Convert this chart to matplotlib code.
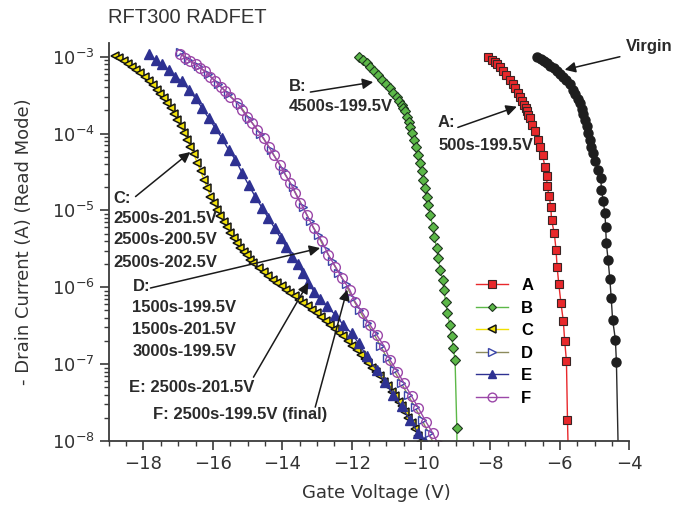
import numpy as np
import matplotlib
matplotlib.use("Agg")
import matplotlib.pyplot as plt
from matplotlib.ticker import MultipleLocator, LogLocator, NullFormatter

plt.rcParams['font.family'] = ['DejaVu Sans']

# Gate voltage (V) and log10 of drain current (A)
virgin_vg = [-6.67, -6.55, -6.45, -6.38, -6.28, -6.18, -6.09, -6.00, -5.90, -5.81,
             -5.72, -5.62, -5.55, -5.48, -5.42, -5.36, -5.32, -5.28, -5.23, -5.18,
             -5.14, -5.09, -5.04, -4.99, -4.90, -4.82, -4.80, -4.75, -4.70, -4.68,
             -4.66, -4.61, -4.56, -4.52, -4.48, -4.40, -4.37, -4.31]
virgin_log = [-3.00, -3.03, -3.06, -3.08, -3.12, -3.15, -3.19, -3.22, -3.26, -3.30,
              -3.36, -3.43, -3.49, -3.55, -3.60, -3.68, -3.75, -3.82, -3.90, -3.99,
              -4.08, -4.17, -4.25, -4.36, -4.47, -4.58, -4.73, -4.88, -5.04, -5.21,
              -5.43, -5.64, -5.89, -6.14, -6.42, -6.68, -6.97, -8.30]

a_vg = [-8.06, -7.96, -7.88, -7.82, -7.72, -7.63, -7.55, -7.44, -7.36, -7.29,
        -7.22, -7.15, -7.09, -7.04, -6.99, -6.96, -6.91, -6.86, -6.79, -6.72,
        -6.64, -6.58, -6.50, -6.43, -6.38, -6.37, -6.31, -6.26, -6.24, -6.16,
        -6.11, -6.08, -6.03, -5.97, -5.90, -5.86, -5.81, -5.78, -5.75]
a_log = [-3.00, -3.04, -3.07, -3.10, -3.14, -3.19, -3.24, -3.30, -3.36, -3.41,
         -3.47, -3.52, -3.58, -3.63, -3.67, -3.71, -3.76, -3.80, -3.89, -3.97,
         -4.08, -4.17, -4.28, -4.43, -4.55, -4.68, -4.81, -4.96, -5.12, -5.30,
         -5.51, -5.73, -5.96, -6.20, -6.44, -6.70, -6.96, -7.73, -8.30]

b_vg = [-11.78, -11.67, -11.56, -11.47, -11.37, -11.25, -11.13, -11.01, -10.89, -10.80,
        -10.70, -10.63, -10.56, -10.51, -10.46, -10.41, -10.36, -10.32, -10.27, -10.20,
        -10.14, -10.08, -10.03, -9.98, -9.93, -9.88, -9.84, -9.79, -9.74, -9.66,
        -9.62, -9.55, -9.50, -9.45, -9.38, -9.34, -9.29, -9.24, -9.17, -9.12,
        -9.07, -9.02, -8.97, -8.96]
b_log = [-3.00, -3.04, -3.08, -3.13, -3.19, -3.24, -3.30, -3.36, -3.41, -3.47,
         -3.52, -3.58, -3.63, -3.67, -3.71, -3.78, -3.85, -3.91, -3.99, -4.08,
         -4.17, -4.28, -4.38, -4.49, -4.60, -4.71, -4.82, -4.93, -5.06, -5.21,
         -5.34, -5.49, -5.62, -5.77, -5.90, -6.04, -6.19, -6.34, -6.49, -6.64,
         -6.79, -6.95, -7.83, -8.30]

c_vg = [-18.81, -18.70, -18.57, -18.45, -18.33, -18.21, -18.09, -17.97, -17.85, -17.73,
        -17.61, -17.51, -17.42, -17.32, -17.22, -17.12, -17.03, -16.93, -16.84, -16.74,
        -16.65, -16.55, -16.45, -16.35, -16.26, -16.16, -16.07, -15.97, -15.88, -15.79,
        -15.69, -15.59, -15.50, -15.40, -15.30, -15.21, -15.11, -15.02, -14.92, -14.83,
        -14.68, -14.54, -14.41, -14.28, -14.15, -14.02, -13.90, -13.77, -13.64, -13.52,
        -13.39, -13.26, -13.13, -13.00, -12.87, -12.75, -12.62, -12.49, -12.37, -12.24,
        -12.11, -11.98, -11.85, -11.74, -11.63, -11.52, -11.41, -11.29, -11.18, -11.07,
        -10.95, -10.84, -10.75, -10.65, -10.56, -10.46, -10.37, -10.27, -10.17, -10.08,
        -10.00]
c_log = [-2.99, -3.02, -3.06, -3.09, -3.13, -3.17, -3.21, -3.26, -3.32, -3.37,
         -3.43, -3.49, -3.54, -3.60, -3.67, -3.74, -3.82, -3.90, -3.99, -4.08,
         -4.17, -4.27, -4.38, -4.49, -4.60, -4.71, -4.82, -4.91, -4.99, -5.07,
         -5.15, -5.22, -5.29, -5.36, -5.43, -5.49, -5.54, -5.58, -5.64, -5.69,
         -5.75, -5.80, -5.85, -5.90, -5.95, -5.99, -6.04, -6.08, -6.12, -6.17,
         -6.21, -6.25, -6.30, -6.34, -6.39, -6.44, -6.49, -6.54, -6.59, -6.64,
         -6.70, -6.76, -6.82, -6.88, -6.93, -6.99, -7.05, -7.10, -7.16, -7.23,
         -7.29, -7.36, -7.42, -7.49, -7.55, -7.62, -7.70, -7.77, -7.85, -7.94,
         -8.02]

d_vg = [-16.95, -16.72, -16.43, -16.15, -15.86, -15.57, -15.23, -14.95, -14.64, -14.32,
        -13.99, -13.70, -13.40, -13.20, -12.98, -12.77, -12.57, -12.38, -12.17, -11.98,
        -11.78, -11.57, -11.37, -11.17, -10.98, -10.78, -10.58, -10.38, -10.18, -9.97,
        -9.78, -9.62]
d_log = [-2.94, -3.04, -3.12, -3.22, -3.35, -3.48, -3.63, -3.81, -4.00, -4.22,
         -4.47, -4.70, -4.96, -5.14, -5.32, -5.50, -5.66, -5.81, -5.96, -6.14,
         -6.30, -6.46, -6.60, -6.76, -6.92, -7.08, -7.24, -7.40, -7.56, -7.73,
         -7.90, -8.05]

e_vg = [-17.85, -17.65, -17.46, -17.27, -17.08, -16.89, -16.70, -16.50, -16.31, -16.12,
        -15.93, -15.74, -15.55, -15.35, -15.16, -14.97, -14.78, -14.58, -14.40, -14.22,
        -14.05, -13.88, -13.72, -13.55, -13.40, -13.25, -13.08, -12.90, -12.71, -12.47,
        -12.24, -12.00, -11.80, -11.56, -11.28, -11.04, -10.80, -10.56, -10.32, -10.08,
        -9.88]
e_log = [-2.97, -3.04, -3.10, -3.17, -3.26, -3.32, -3.43, -3.54, -3.67, -3.80,
         -3.93, -4.06, -4.21, -4.34, -4.51, -4.67, -4.82, -4.97, -5.10, -5.23,
         -5.36, -5.48, -5.60, -5.70, -5.82, -5.94, -6.06, -6.15, -6.25, -6.36,
         -6.49, -6.60, -6.73, -6.90, -7.08, -7.23, -7.40, -7.55, -7.73, -7.90,
         -8.02]

f_vg = [-16.94, -16.79, -16.65, -16.50, -16.36, -16.22, -16.07, -15.93, -15.78, -15.64,
        -15.50, -15.30, -15.16, -15.02, -14.87, -14.73, -14.54, -14.39, -14.25, -14.06,
        -13.91, -13.77, -13.63, -13.48, -13.29, -13.10, -12.86, -12.67, -12.47, -12.28,
        -12.06, -11.90, -11.68, -11.47, -11.28, -11.06, -10.89, -10.68, -10.49, -10.27,
        -10.08, -9.86, -9.66, -9.50]
f_log = [-2.96, -3.02, -3.06, -3.10, -3.15, -3.19, -3.26, -3.32, -3.39, -3.45,
         -3.52, -3.60, -3.69, -3.78, -3.86, -3.95, -4.06, -4.17, -4.28, -4.41,
         -4.54, -4.64, -4.77, -4.90, -5.06, -5.23, -5.40, -5.58, -5.73, -5.88,
         -6.03, -6.19, -6.34, -6.49, -6.62, -6.77, -6.95, -7.10, -7.25, -7.42,
         -7.57, -7.75, -7.90, -8.05]

fig = plt.figure(figsize=(6.93, 5.08), dpi=100)
ax = fig.add_axes([0.157, 0.132, 0.751, 0.783])

def curve(vg, logi, **kw):
    ax.plot(vg, np.power(10.0, logi), lw=1.0, **kw)

curve(virgin_vg, virgin_log, color='#2a2a2a', marker='o', ms=6.5, mfc='#1e1e1e', mec='#1e1e1e')
curve(a_vg, a_log, color='#e8282b', marker='s', ms=6, mfc='#e8282b', mec='#3a2424', mew=0.8, label='A')
curve(b_vg, b_log, color='#5cb848', marker='D', ms=5, mfc='#5cb848', mec='#1e351e', mew=0.8, label='B')
curve(c_vg, c_log, color='#f0e000', marker='<', ms=6.2, mfc='#f2e20a', mec='#151515', mew=1.1, label='C')
curve(d_vg, d_log, color='#8c8a5c', marker='>', ms=6, mfc='white', mec='#3a45a8', mew=1.0, label='D')
curve(e_vg, e_log, color='#2e3192', marker='^', ms=6.5, mfc='#2e3192', mec='#2e3192', label='E')
curve(f_vg, f_log, color='#9b47a8', marker='o', ms=7, mfc='none', mec='#9b47a8', mew=1.0, label='F')

ax.set_yscale('log')
ax.set_xlim(-19, -4)
ax.set_ylim(1e-8, 1.5e-3)
ax.xaxis.set_major_locator(MultipleLocator(2))
ax.xaxis.set_minor_locator(MultipleLocator(0.5))
ax.yaxis.set_major_locator(LogLocator(base=10, numticks=10))
ax.yaxis.set_minor_locator(LogLocator(base=10, subs=np.arange(2, 10), numticks=10))
ax.yaxis.set_minor_formatter(NullFormatter())

for s in ['top', 'right']:
    ax.spines[s].set_visible(False)
for s in ['left', 'bottom']:
    ax.spines[s].set_color('#3a3a3a')
    ax.spines[s].set_linewidth(1.3)
ax.tick_params(which='major', length=6.5, width=1.2, color='#3a3a3a', labelsize=13, labelcolor='#333333')
ax.tick_params(which='minor', length=3.5, width=1.0, color='#3a3a3a')

ax.set_xlabel('Gate Voltage (V)', fontsize=13, color='#333333')
ax.set_ylabel('- Drain Current (A) (Read Mode)', fontsize=13, color='#333333')
ax.xaxis.set_label_coords(0.514, -0.108)
ax.yaxis.set_label_coords(-0.146, 0.5)

fig.text(0.156, 0.965, 'RFT300 RADFET', fontsize=14.5, family='Liberation Sans',
         color='#333333', va='center', ha='left')

bold = dict(family='Liberation Sans', weight='bold', fontsize=12, color='#2a2a2a',
            va='center', ha='left')

def label(x, logy, s):
    ax.text(x, 10 ** logy, s, clip_on=False, **bold)

def arrow(x0, ly0, x1, ly1):
    ax.annotate('', xy=(x1, 10 ** ly1), xytext=(x0, 10 ** ly0),
                arrowprops=dict(arrowstyle='-|>', color='#1a1a1a', lw=1.1,
                                mutation_scale=16, shrinkA=0, shrinkB=0))

label(-4.10, -2.87, 'Virgin')
arrow(-4.27, -3.00, -5.86, -3.17)

label(-9.51, -3.86, 'A:')
label(-9.51, -4.15, '500s-199.5V')
arrow(-8.94, -3.92, -7.24, -3.65)

label(-13.80, -3.39, 'B:')
label(-13.80, -3.65, '4500s-199.5V')
arrow(-13.19, -3.46, -11.38, -3.33)

label(-18.86, -4.84, 'C:')
label(-18.86, -5.10, '2500s-201.5V')
label(-18.86, -5.38, '2500s-200.5V')
label(-18.86, -5.68, '2500s-202.5V')
arrow(-18.23, -4.82, -16.65, -4.24)

label(-18.32, -5.99, 'D:')
label(-18.32, -6.27, '1500s-199.5V')
label(-18.32, -6.55, '1500s-201.5V')
label(-18.32, -6.84, '3000s-199.5V')
arrow(-17.80, -6.01, -12.91, -5.49)

label(-18.43, -7.30, 'E: 2500s-201.5V')
arrow(-14.83, -7.17, -13.25, -5.94)

label(-17.74, -7.66, 'F: 2500s-199.5V (final)')
arrow(-13.05, -7.56, -12.13, -6.03)

ax.legend(loc='upper left', bbox_to_anchor=(0.69, 0.43), frameon=False,
          prop=dict(family='Liberation Sans', weight='bold', size=12),
          handlelength=1.9, handletextpad=0.8, labelspacing=0.45, borderpad=0,
          markerscale=0.9)

fig.savefig('out.png', dpi=100)
